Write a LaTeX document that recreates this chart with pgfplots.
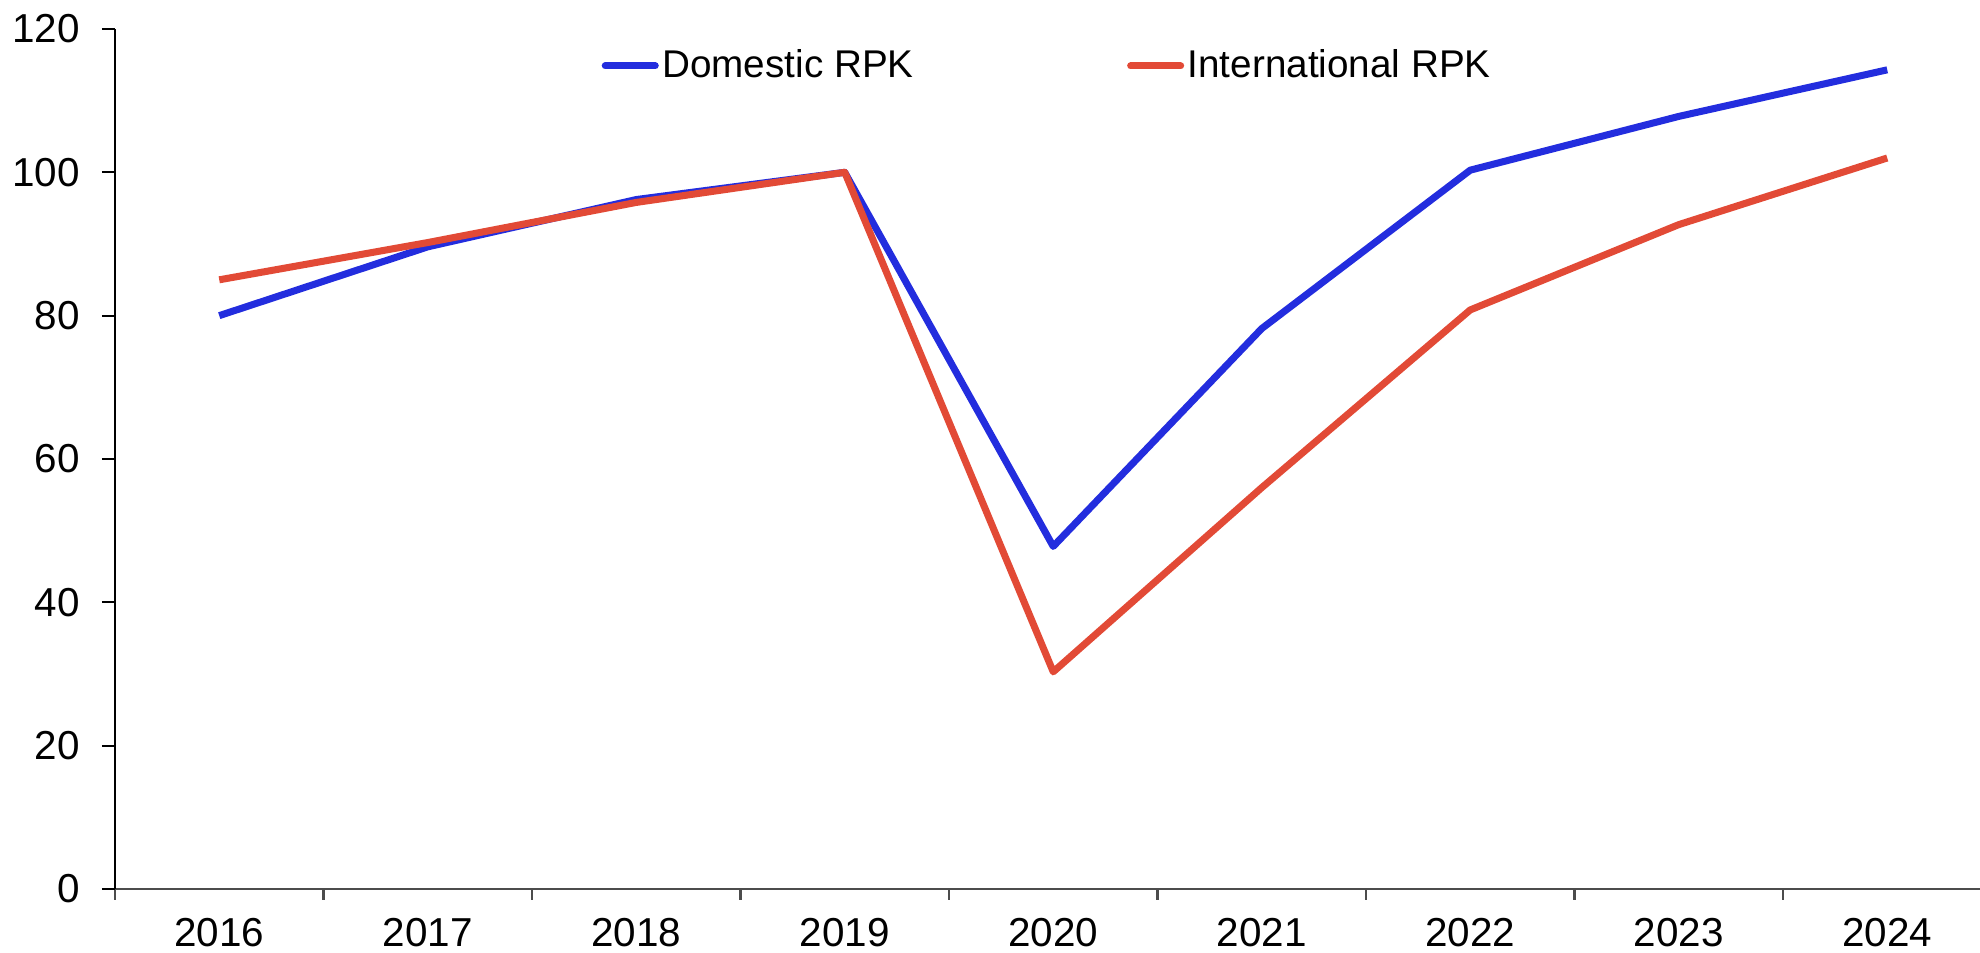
\documentclass[border=0pt]{standalone}
\usepackage{fontspec}
\setmainfont{Liberation Sans}
\usepackage{pgfplots}
\pgfplotsset{compat=1.18}
\definecolor{domblue}{RGB}{35,45,222}
\definecolor{intred}{RGB}{226,74,54}
\newcommand{\tickfont}{\fontsize{11.5}{13}\selectfont}
\newcommand{\legfont}{\fontsize{11}{13}\selectfont}
\begin{document}
\begin{tikzpicture}
\useasboundingbox (0,0) rectangle (19.80cm,9.53cm);
\begin{axis}[
at={(1.15cm,0.64cm)}, anchor=south west,
scale only axis,
width=18.65cm, height=8.60cm,
xmin=-0.5, xmax=8.445,
ymin=0, ymax=120,
axis x line*=bottom,
axis y line*=left,
x axis line style={-,draw=black!70,line width=0.8pt},
y axis line style={-,draw=black,line width=0.6pt},
tick align=outside,
xtick={0,...,8},
xticklabels={2016,2017,2018,2019,2020,2021,2022,2023,2024},
major x tick style={draw=none},
minor xtick={-0.5,0.5,...,7.5},
minor tick length=0.11cm,
major tick length=0.13cm,
minor x tick style={draw=black!70,line width=0.6pt},
ytick={0,20,...,120},
major y tick style={draw=black,line width=0.6pt},
tick label style={font=\tickfont},
/pgf/number format/assume math mode=true,
xticklabel style={yshift=-0.04cm},
yticklabel style={xshift=-0.10cm},
legend columns=2,
legend cell align=left,
legend style={draw=none,fill=none,font=\legfont,
  at={(0.2606,0.957)},anchor=west,inner sep=0pt,
  nodes={inner sep=1pt},
  /tikz/every even column/.append style={column sep=2.10cm}},
legend image code/.code={\draw[#1,line width=2pt,line cap=round] (0cm,0cm) -- (0.50cm,0cm);},
]
\addplot[domblue,line width=2pt,line join=round] coordinates {
(0,80.0) (1,89.6) (2,96.2) (3,100.0) (4,47.8) (5,78.2) (6,100.3) (7,107.8) (8,114.3)};
\addplot[intred,line width=2pt,line join=round] coordinates {
(0,85.0) (1,90.2) (2,95.8) (3,100.0) (4,30.3) (5,56.0) (6,80.8) (7,92.7) (8,102.0)};
\legend{Domestic RPK,International RPK}
\end{axis}
\end{tikzpicture}
\end{document}
